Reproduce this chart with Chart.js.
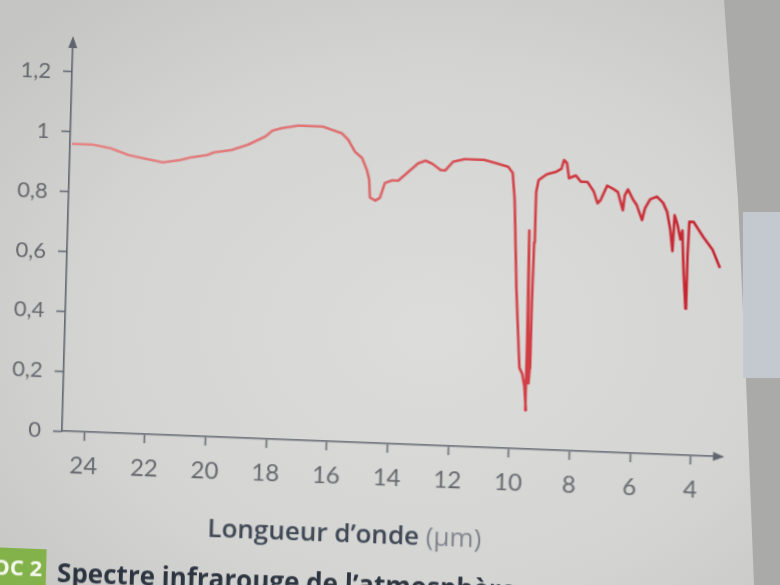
<!DOCTYPE html>
<html>
<head>
<meta charset="utf-8">
<script src="https://cdn.jsdelivr.net/npm/chart.js@4.4.1/dist/chart.umd.min.js"></script>
<style>
html,body{margin:0;padding:0;width:780px;height:585px;overflow:hidden;}
body{position:relative;background:radial-gradient(ellipse 560px 430px at 430px 330px,#dcdcda 0%,#d4d4d2 60%,#c5c5c3 100%);}
#edge{position:absolute;left:0;top:0;width:780px;height:585px;background:#aaaaa9;clip-path:polygon(724px 0,780px 0,780px 585px,754px 585px,746px 380px,738px 200px);}
#tab{position:absolute;left:743px;top:212px;width:37px;height:166px;background:#c3c9cf;}
#page{position:absolute;left:0;top:0;width:780px;height:585px;transform-origin:62px 431px;transform:matrix(1,0.039,-0.028,1,0,0);filter:blur(0.4px);}
#page canvas{position:absolute;left:0;top:0;}
#xtitle{position:absolute;left:210px;top:503px;font:600 26px 'Open Sans';color:#3d4653;white-space:nowrap;}
#xtitle span{font-weight:400;color:#7f848c;}
#doc{position:absolute;left:-14px;top:550px;width:64px;height:50px;background:#84b24a;}
#doclabel{position:absolute;left:-20px;top:553px;width:66px;text-align:right;font:700 22px 'Open Sans';color:#f4f8ee;white-space:nowrap;}
#caption{position:absolute;left:61px;top:554px;font:700 26px 'Open Sans';color:#2c3440;white-space:nowrap;}
</style>
</head>
<body>
<div id="edge"></div>
<div id="tab"></div>
<div id="page">
  <canvas id="c" width="780" height="585"></canvas>
  <div id="xtitle">Longueur d’onde <span>(µm)</span></div>
  <div id="doc"></div>
  <div id="doclabel">DOC 2</div>
  <div id="caption">Spectre infrarouge de l’atmosphère</div>
</div>
<script>
// Wavelength (µm) and relative transmission
const wavelengths = [24.67, 23.98, 23.38, 22.80, 22.24, 21.66, 21.09, 20.75, 20.21, 19.98,
  19.41, 18.87, 18.30, 18.08, 17.75, 17.24, 16.68, 16.42, 16.11, 15.79,
  15.58, 15.34, 15.10, 14.93, 14.85, 14.81, 14.63, 14.48, 14.33, 14.09,
  13.89, 13.57, 13.25, 13.01, 12.78, 12.50, 12.35, 12.10, 11.72, 11.08,
  10.66, 10.28, 10.13, 10.04, 9.90, 9.77, 9.73, 9.63, 9.55, 9.48,
  9.50, 9.53, 9.48, 9.42, 9.39, 9.38, 9.36, 9.34, 9.27, 9.01,
  8.69, 8.53, 8.45, 8.35, 8.27, 8.05, 7.88, 7.66, 7.45, 7.31,
  7.22, 7.01, 6.81, 6.65, 6.47, 6.42, 6.32, 6.16, 6.02, 5.83,
  5.74, 5.58, 5.36, 5.15, 5.01, 4.89, 4.80, 4.76, 4.66, 4.55,
  4.49, 4.42, 4.32, 4.30, 4.27, 4.13, 3.79, 3.48, 3.22];
const transmission = [0.96, 0.96, 0.95, 0.93, 0.92, 0.91, 0.92, 0.93, 0.94, 0.95,
  0.96, 0.98, 1.01, 1.03, 1.04, 1.05, 1.05, 1.05, 1.04, 1.03,
  1.01, 0.97, 0.95, 0.91, 0.88, 0.82, 0.81, 0.82, 0.87, 0.88,
  0.88, 0.91, 0.94, 0.95, 0.94, 0.92, 0.92, 0.95, 0.96, 0.96,
  0.95, 0.94, 0.92, 0.83, 0.53, 0.33, 0.27, 0.25, 0.21, 0.13,
  0.36, 0.73, 0.43, 0.22, 0.27, 0.49, 0.69, 0.86, 0.90, 0.92,
  0.93, 0.94, 0.97, 0.96, 0.91, 0.92, 0.90, 0.90, 0.87, 0.83,
  0.84, 0.89, 0.88, 0.87, 0.81, 0.86, 0.88, 0.85, 0.83, 0.78,
  0.82, 0.85, 0.86, 0.84, 0.81, 0.75, 0.68, 0.80, 0.77, 0.72,
  0.75, 0.62, 0.49, 0.66, 0.78, 0.78, 0.73, 0.69, 0.63];
const xTickValues = [24, 22, 20, 18, 16, 14, 12, 10, 8, 6, 4];
const yTickValues = [0, 0.2, 0.4, 0.6, 0.8, 1, 1.2];
const yTickLabels = ['0', '0,2', '0,4', '0,6', '0,8', '1', '1,2'];

const axisColor = '#5f646e';
const labelColor = '#66686e';
const tickFont = "Lato, 'Liberation Sans', sans-serif";

const arrows = {
  id: 'arrows',
  afterDraw(chart) {
    const {ctx, chartArea: a} = chart;
    ctx.save();
    ctx.strokeStyle = axisColor; ctx.fillStyle = axisColor; ctx.lineWidth = 1.6;
    ctx.beginPath(); ctx.moveTo(a.right - 2, a.bottom); ctx.lineTo(a.right + 2, a.bottom); ctx.stroke();
    ctx.beginPath(); ctx.moveTo(a.right + 3, a.bottom); ctx.lineTo(a.right - 8, a.bottom - 4.5); ctx.lineTo(a.right - 8, a.bottom + 4.5); ctx.closePath(); ctx.fill();
    ctx.beginPath(); ctx.moveTo(a.left, a.top + 2); ctx.lineTo(a.left, a.top - 3); ctx.stroke();
    ctx.beginPath(); ctx.moveTo(a.left, a.top - 6); ctx.lineTo(a.left - 4.5, a.top + 6); ctx.lineTo(a.left + 4.5, a.top + 6); ctx.closePath(); ctx.fill();
    ctx.restore();
  }
};

new Chart(document.getElementById('c'), {
  type: 'scatter',
  data: {
    datasets: [{
      data: wavelengths.map((x, i) => ({x: x, y: transmission[i]})),
      showLine: true,
      tension: 0,
      pointRadius: 0,
      borderWidth: 2.6,
      borderJoinStyle: 'round',
      borderColor: (c) => {
        const ch = c.chart; const a = ch.chartArea;
        if (!a) return '#d44a4a';
        const g = ch.ctx.createLinearGradient(a.left, 0, a.right, 0);
        g.addColorStop(0, '#e58686');
        g.addColorStop(0.4, '#de7272');
        g.addColorStop(0.68, '#d24046');
        g.addColorStop(1, '#c41f2b');
        return g;
      }
    }]
  },
  options: {
    responsive: false,
    animation: false,
    devicePixelRatio: 1,
    layout: {padding: {top: 42, right: 59, left: 0, bottom: 0}},
    plugins: {legend: {display: false}, tooltip: {enabled: false}},
    scales: {
      x: {
        type: 'linear', reverse: true, min: 3.01, max: 24.73,
        afterBuildTicks: (s) => { s.ticks = xTickValues.map(v => ({value: v})); },
        afterFit: (s) => { s.height = 154; },
        grid: {drawOnChartArea: false, drawTicks: true, tickLength: 9, tickColor: axisColor, tickWidth: 1.5},
        border: {color: axisColor, width: 1.6},
        ticks: {color: labelColor, font: {family: tickFont, size: 24}, padding: 11, maxRotation: 0, autoSkip: false}
      },
      y: {
        min: 0, max: 1.3,
        afterBuildTicks: (s) => { s.ticks = yTickValues.map(v => ({value: v})); },
        afterFit: (s) => { s.width = 62; },
        grid: {drawOnChartArea: false, drawTicks: true, tickLength: 9, tickColor: axisColor, tickWidth: 1.5},
        border: {color: axisColor, width: 1.6},
        ticks: {color: labelColor, font: {family: tickFont, size: 22}, padding: 12, autoSkip: false,
          callback: (v, i) => yTickLabels[i]}
      }
    }
  },
  plugins: [arrows]
});
</script>
</body>
</html>
